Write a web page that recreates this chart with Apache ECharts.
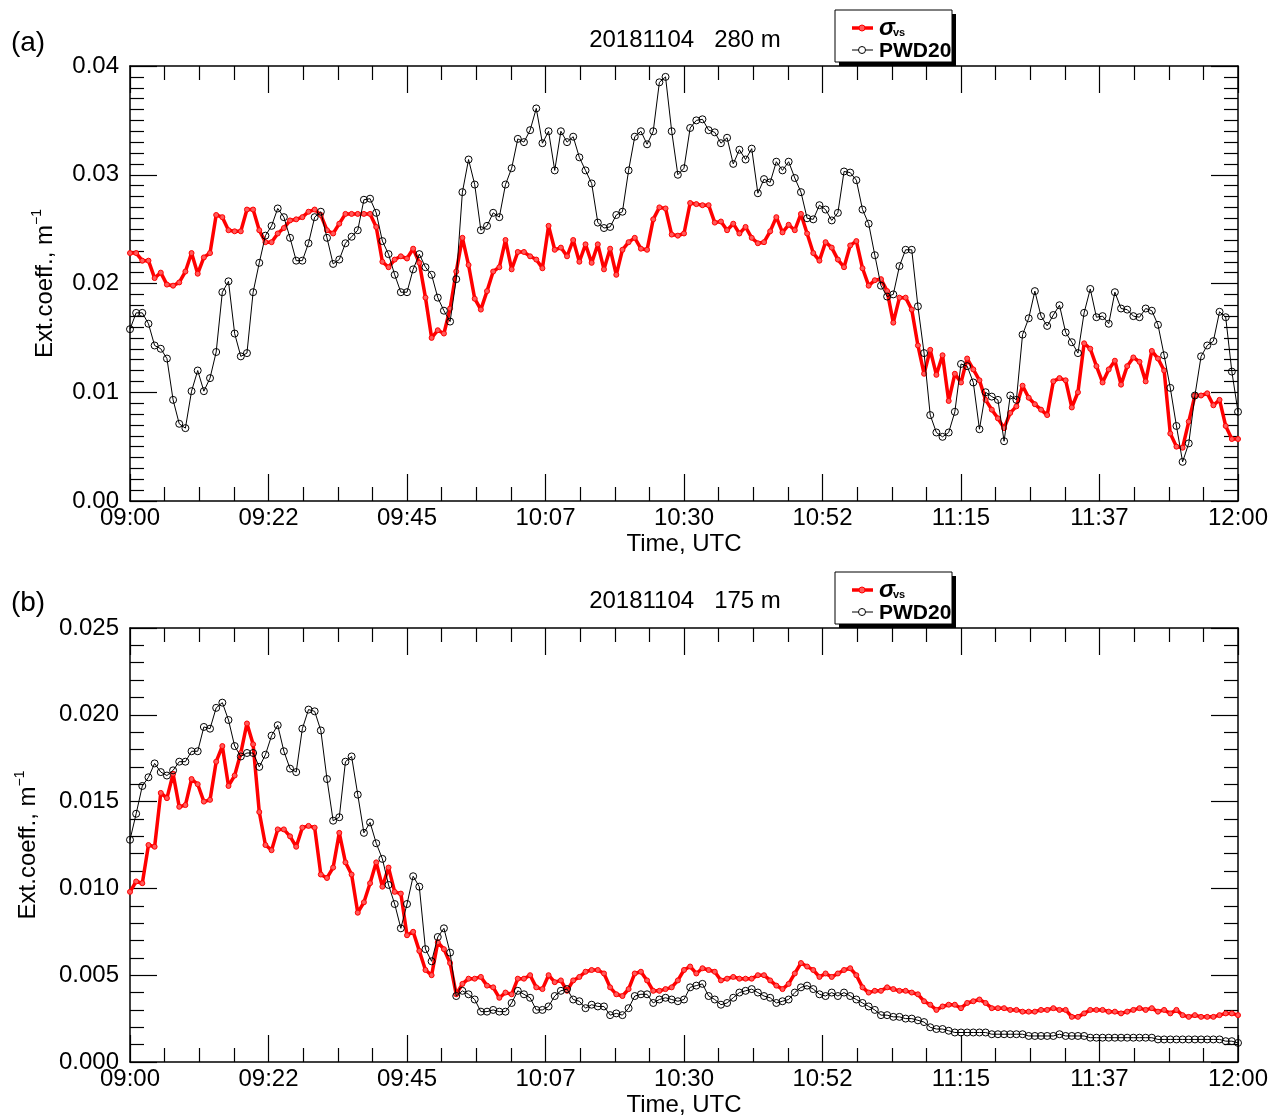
<!DOCTYPE html>
<html>
<head>
<meta charset="utf-8">
<script src="https://cdn.jsdelivr.net/npm/echarts@6/dist/echarts.min.js"></script>
<style>html,body{margin:0;padding:0;background:#fff;}#c{width:1272px;height:1117px;}</style>
</head>
<body>
<div id="c"></div>
<script>
// ---- tick labels ----
const timeLabels = ['09:00','09:22','09:45','10:07','10:30','10:52','11:15','11:37','12:00'];
const yTicksA = ['0.00','0.01','0.02','0.03','0.04'];
const yTicksB = ['0.000','0.005','0.010','0.015','0.020','0.025'];
const titleA = '20181104   280 m';
const titleB = '20181104   175 m';

// ---- series values, one per minute from 09:00 to 12:00 ----
const sigmaA = [
0.0228,0.0228,0.0221,0.0221,0.0205,0.0210,0.0199,0.0198,0.0201,0.0211,0.0228,0.0209,0.0224,0.0228,0.0263,0.0261,0.0249,0.0248,0.0248,0.0268,
0.0268,0.0249,0.0238,0.0238,0.0246,0.0251,0.0258,0.0259,0.0261,0.0266,0.0268,0.0263,0.0249,0.0246,0.0255,0.0264,0.0264,0.0264,0.0264,0.0264,
0.0252,0.0220,0.0215,0.0222,0.0225,0.0223,
0.0232,0.0219,0.0187,0.0150,0.0157,0.0154,0.0177,0.0211,0.0242,0.0217,0.0186,0.0176,0.0193,0.0211,0.0215,0.0240,0.0213,0.0229,0.0229,0.0225,
0.0222,0.0214,0.0253,0.0231,0.0233,0.0225,0.0240,0.0220,0.0236,0.0219,0.0236,0.0213,0.0232,0.0208,0.0231,0.0238,0.0242,0.0232,0.0231,0.0259,
0.0270,0.0269,0.0245,0.0244,0.0246,
0.0274,0.0273,0.0272,0.0272,0.0256,0.0257,0.0249,0.0255,0.0246,0.0252,0.0242,0.0237,0.0238,0.0248,0.0261,0.0247,0.0254,0.0249,0.0264,0.0246,
0.0228,0.0221,0.0238,0.0233,0.0222,0.0215,0.0235,0.0239,0.0214,0.0198,0.0203,0.0204,0.0193,0.0164,0.0187,0.0187,0.0176,0.0143,0.0117,0.0139,
0.0116,0.0134,0.0092,0.0117,0.0109,0.0131,
0.0121,0.0111,0.0093,0.0084,0.0076,0.0067,0.0081,0.0087,0.0106,0.0095,0.0089,0.0084,0.0079,0.0110,0.0113,0.0111,0.0086,0.0100,0.0145,0.0140,
0.0124,0.0109,0.0121,0.0129,0.0107,0.0124,0.0132,0.0128,0.0110,0.0138,0.0131,0.0120,0.0062,0.0050,0.0049,0.0073,0.0097,0.0097,0.0099,0.0088,
0.0093,0.0069,0.0057,0.0057
];
const pwdA = [
0.0158,0.0173,0.0173,0.0163,0.0143,0.0140,0.0131,0.0093,0.0071,0.0067,0.0101,0.0120,0.0101,0.0113,0.0137,0.0192,0.0202,0.0154,0.0133,0.0136,
0.0192,0.0219,0.0244,0.0253,0.0269,0.0261,0.0242,0.0221,0.0221,0.0237,0.0261,0.0266,0.0242,0.0218,0.0222,0.0237,0.0243,0.0249,0.0277,0.0278,
0.0265,0.0239,0.0227,0.0208,0.0192,0.0192,
0.0213,0.0227,0.0215,0.0208,0.0187,0.0175,0.0165,0.0204,0.0284,0.0314,0.0291,0.0249,0.0253,0.0265,0.0261,0.0291,0.0306,0.0333,0.0330,0.0341,
0.0361,0.0329,0.0340,0.0304,0.0340,0.0330,0.0335,0.0316,0.0304,0.0292,0.0256,0.0251,0.0252,0.0263,0.0266,0.0304,0.0335,0.0340,0.0328,0.0340,
0.0385,0.0390,0.0340,0.0300,0.0306,
0.0343,0.0350,0.0351,0.0341,0.0339,0.0329,0.0334,0.0310,0.0323,0.0314,0.0324,0.0283,0.0296,0.0293,0.0312,0.0304,0.0312,0.0297,0.0284,0.0260,
0.0259,0.0272,0.0268,0.0258,0.0265,0.0303,0.0302,0.0295,0.0268,0.0255,0.0226,0.0198,0.0188,0.0190,0.0216,0.0231,0.0231,0.0179,0.0136,0.0079,
0.0063,0.0059,0.0063,0.0082,0.0126,0.0124,
0.0109,0.0066,0.0100,0.0096,0.0093,0.0055,0.0097,0.0093,0.0153,0.0168,0.0193,0.0170,0.0161,0.0171,0.0180,0.0155,0.0146,0.0136,0.0173,0.0195,
0.0169,0.0170,0.0163,0.0192,0.0177,0.0176,0.0170,0.0169,0.0177,0.0175,0.0162,0.0134,0.0104,0.0069,0.0036,0.0053,0.0097,0.0133,0.0143,0.0147,
0.0174,0.0169,0.0119,0.0082
];
const sigmaB = [
0.0098,0.0104,0.0103,0.0125,0.0124,0.0155,0.0152,0.0166,0.0147,0.0148,0.0163,0.0160,0.0150,0.0151,0.0173,0.0182,0.0159,0.0165,0.0178,0.0195,
0.0183,0.0144,0.0125,0.0122,0.0134,0.0134,0.0130,0.0124,0.0135,0.0136,0.0135,0.0108,0.0106,0.0112,0.0132,0.0115,0.0108,0.0086,0.0092,0.0103,
0.0115,0.0101,0.0112,0.0098,0.0097,0.0073,
0.0075,0.0064,0.0053,0.0050,0.0069,0.0065,0.0057,0.0039,0.0045,0.0048,0.0048,0.0049,0.0044,0.0043,0.0037,0.0040,0.0039,0.0048,0.0048,0.0050,
0.0043,0.0042,0.0050,0.0046,0.0047,0.0041,0.0047,0.0049,0.0052,0.0053,0.0053,0.0051,0.0043,0.0039,0.0038,0.0042,0.0051,0.0052,0.0047,0.0041,
0.0041,0.0042,0.0043,0.0047,0.0053,
0.0055,0.0051,0.0054,0.0053,0.0052,0.0047,0.0048,0.0049,0.0048,0.0048,0.0048,0.0050,0.0050,0.0047,0.0044,0.0042,0.0045,0.0051,0.0057,0.0055,
0.0053,0.0049,0.0051,0.0049,0.0051,0.0053,0.0054,0.0050,0.0043,0.0040,0.0041,0.0041,0.0043,0.0042,0.0041,0.0041,0.0040,0.0039,0.0035,0.0033,
0.0030,0.0032,0.0033,0.0033,0.0031,0.0034,
0.0035,0.0036,0.0034,0.0031,0.0031,0.0031,0.0030,0.0030,0.0029,0.0029,0.0029,0.0030,0.0030,0.0031,0.0030,0.0030,0.0026,0.0026,0.0028,0.0030,
0.0030,0.0030,0.0029,0.0029,0.0028,0.0029,0.0030,0.0031,0.0030,0.0031,0.0029,0.0030,0.0028,0.0030,0.0027,0.0026,0.0027,0.0026,0.0026,0.0026,
0.0027,0.0028,0.0028,0.0027
];
const pwdB = [
0.0128,0.0143,0.0159,0.0164,0.0172,0.0167,0.0165,0.0168,0.0173,0.0173,0.0179,0.0179,0.0193,0.0192,0.0204,0.0207,0.0197,0.0182,0.0176,0.0178,
0.0178,0.0170,0.0177,0.0188,0.0194,0.0179,0.0169,0.0167,0.0192,0.0203,0.0202,0.0191,0.0163,0.0139,0.0141,0.0173,0.0176,0.0154,0.0132,0.0138,
0.0126,0.0117,0.0102,0.0091,0.0077,0.0091,
0.0107,0.0101,0.0065,0.0058,0.0072,0.0077,0.0063,0.0038,0.0041,0.0039,0.0036,0.0029,0.0029,0.0030,0.0029,0.0029,0.0034,0.0041,0.0039,0.0037,
0.0030,0.0030,0.0032,0.0038,0.0041,0.0042,0.0036,0.0035,0.0031,0.0033,0.0032,0.0032,0.0027,0.0028,0.0027,0.0031,0.0038,0.0039,0.0039,0.0034,
0.0036,0.0037,0.0036,0.0035,0.0036,
0.0043,0.0044,0.0045,0.0038,0.0036,0.0033,0.0034,0.0037,0.0040,0.0041,0.0042,0.0040,0.0038,0.0037,0.0034,0.0035,0.0036,0.0040,0.0043,0.0044,
0.0042,0.0039,0.0038,0.0040,0.0038,0.0040,0.0038,0.0036,0.0034,0.0032,0.0030,0.0027,0.0027,0.0026,0.0026,0.0025,0.0025,0.0024,0.0023,0.0020,
0.0019,0.0019,0.0018,0.0017,0.0017,0.0017,
0.0017,0.0017,0.0017,0.0016,0.0016,0.0016,0.0016,0.0016,0.0016,0.0015,0.0015,0.0015,0.0015,0.0015,0.0016,0.0015,0.0015,0.0015,0.0015,0.0014,
0.0014,0.0014,0.0014,0.0014,0.0014,0.0014,0.0014,0.0014,0.0014,0.0014,0.0013,0.0013,0.0013,0.0013,0.0013,0.0013,0.0013,0.0013,0.0013,0.0013,
0.0013,0.0012,0.0012,0.0011
];

const FONT = '"Liberation Sans", Arial, Helvetica, sans-serif';
const pairs = arr => arr.map((v, i) => [i, v]);   // i = minutes after 09:00

function xAxes(grid) {
  const common = {
    type: 'value', gridIndex: grid, min: 0, max: 180, interval: 22.5,
    axisLine: { show: true, onZero: false, lineStyle: { color: '#000', width: 1.5 } },
    axisTick: { show: true, inside: true, length: 27, lineStyle: { color: '#000', width: 1.2 } },
    minorTick: { show: true, splitNumber: 4, length: 14, lineStyle: { color: '#000', width: 1.2 } },
    splitLine: { show: false }, minorSplitLine: { show: false }
  };
  return [
    Object.assign({}, common, {
      position: 'bottom',
      axisLabel: { show: true, color: '#000', fontSize: 24, fontFamily: FONT, margin: 5,
        formatter: v => timeLabels[Math.round(v / 22.5)] },
      name: 'Time, UTC', nameLocation: 'middle', nameGap: 31,
      nameTextStyle: { color: '#000', fontSize: 24, fontFamily: FONT }
    }),
    Object.assign({}, common, { position: 'top', axisLabel: { show: false } })
  ];
}
function yAxes(grid, max, interval, labels, gap) {
  const common = {
    type: 'value', gridIndex: grid, min: 0, max: max, interval: interval,
    axisLine: { show: true, onZero: false, lineStyle: { color: '#000', width: 1.5 } },
    axisTick: { show: true, inside: true, length: 27, lineStyle: { color: '#000', width: 1.2 } },
    minorTick: { show: true, splitNumber: Math.round(interval / 0.001), length: 14, lineStyle: { color: '#000', width: 1.2 } },
    splitLine: { show: false }, minorSplitLine: { show: false }
  };
  return [
    Object.assign({}, common, {
      position: 'left',
      axisLabel: { show: true, color: '#000', fontSize: 24, fontFamily: FONT, margin: 11,
        formatter: v => labels[Math.round(v / interval)] },
      name: '{a|Ext.coeff., m}{s|\u22121}', nameLocation: 'middle', nameRotate: 90, nameGap: gap,
      nameTextStyle: { color: '#000', fontFamily: FONT,
        rich: { a: { fontSize: 24, fontFamily: FONT, color: '#000', lineHeight: 30 },
                s: { fontSize: 14, fontFamily: FONT, color: '#000', verticalAlign: 'top', lineHeight: 30 } } }
    }),
    Object.assign({}, common, { position: 'right', axisLabel: { show: false } })
  ];
}
function redSeries(data, xi) {
  return { type: 'line', name: 'sigma', xAxisIndex: xi, yAxisIndex: xi, data: pairs(data),
    symbol: 'circle', symbolSize: 5, z: 2,
    lineStyle: { color: '#ff0000', width: 3.5 },
    itemStyle: { color: '#ff5a5a', borderColor: '#ff0000', borderWidth: 1 } };
}
function blackSeries(data, xi) {
  return { type: 'line', name: 'PWD20', xAxisIndex: xi, yAxisIndex: xi, data: pairs(data),
    symbol: 'circle', symbolSize: 7, z: 3,
    lineStyle: { color: '#000', width: 1 },
    itemStyle: { color: 'rgba(0,0,0,0)', borderColor: '#000', borderWidth: 1 } };
}
function legend(dy) {
  return [
    { type: 'rect', shape: { x: 839, y: 14 + dy, width: 117, height: 52 }, style: { fill: '#000' }, z: 100 },
    { type: 'rect', shape: { x: 835, y: 10 + dy, width: 117, height: 52 }, style: { fill: '#fff', stroke: '#000', lineWidth: 1 }, z: 101 },
    { type: 'line', shape: { x1: 852, y1: 28 + dy, x2: 873, y2: 28 + dy }, style: { stroke: '#ff0000', lineWidth: 3.5 }, z: 102 },
    { type: 'circle', shape: { cx: 862, cy: 28 + dy, r: 3 }, style: { fill: '#ff5a5a', stroke: '#ff0000', lineWidth: 1 }, z: 103 },
    { type: 'text', x: 879, y: 28 + dy, style: { text: '\u03c3', font: 'italic bold 24px ' + FONT, fill: '#000', align: 'left', verticalAlign: 'middle', textAlign: 'left', textVerticalAlign: 'middle' }, z: 103 },
    { type: 'text', x: 893, y: 33 + dy, style: { text: 'vs', font: 'bold 11px ' + FONT, fill: '#000', align: 'left', verticalAlign: 'middle', textAlign: 'left', textVerticalAlign: 'middle' }, z: 103 },
    { type: 'line', shape: { x1: 852, y1: 50 + dy, x2: 873, y2: 50 + dy }, style: { stroke: '#000', lineWidth: 1 }, z: 102 },
    { type: 'circle', shape: { cx: 862, cy: 50 + dy, r: 3.5 }, style: { fill: '#fff', stroke: '#000', lineWidth: 1 }, z: 103 },
    { type: 'text', x: 879, y: 51 + dy, style: { text: 'PWD20', font: 'bold 21px ' + FONT, fill: '#000', align: 'left', verticalAlign: 'middle', textAlign: 'left', textVerticalAlign: 'middle' }, z: 103 }
  ];
}
function txt(x, y, s, size) {
  return { type: 'text', x: x, y: y, style: { text: s, font: size + 'px ' + FONT, fill: '#000', align: 'center', verticalAlign: 'middle', textAlign: 'center', textVerticalAlign: 'middle' }, z: 50 };
}

const chart = echarts.init(document.getElementById('c'), null, { renderer: 'canvas' });
chart.setOption({
  animation: false,
  backgroundColor: '#fff',
  grid: [
    { left: 130, top: 66, width: 1108, height: 435, containLabel: false, outerBoundsMode: 'none' },
    { left: 130, top: 628, width: 1108, height: 434, containLabel: false, outerBoundsMode: 'none' }
  ],
  xAxis: xAxes(0).concat(xAxes(1)),
  yAxis: yAxes(0, 0.04, 0.01, yTicksA, 70).concat(yAxes(1, 0.025, 0.005, yTicksB, 87)),
  series: [
    redSeries(sigmaA, 0), blackSeries(pwdA, 0),
    redSeries(sigmaB, 2), blackSeries(pwdB, 2)
  ],
  graphic: [
    txt(28, 43, '(a)', 28), txt(28, 603, '(b)', 28),
    txt(685, 40, titleA, 24), txt(685, 601, titleB, 24)
  ].concat(legend(0)).concat(legend(562))
});
</script>
</body>
</html>
